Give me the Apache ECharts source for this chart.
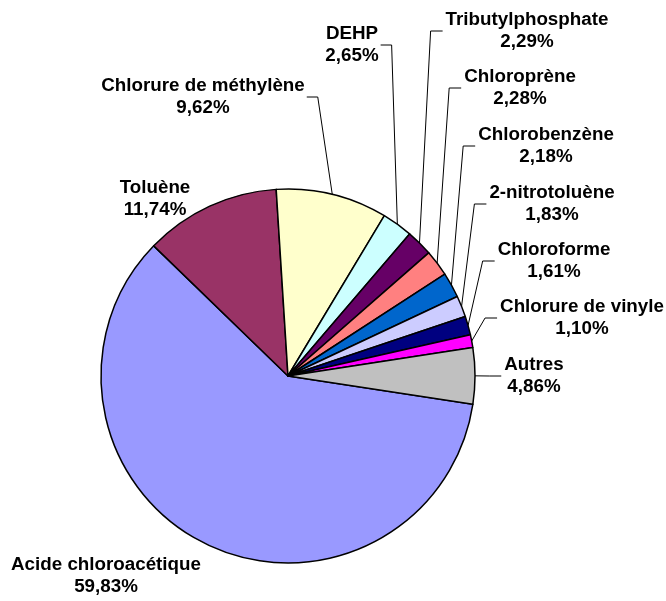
<!DOCTYPE html>
<html>
<head>
<meta charset="utf-8">
<script src="https://cdn.jsdelivr.net/npm/echarts@6/dist/echarts.min.js"></script>
<style>
  html, body { margin: 0; padding: 0; background: #fff; }
  #chart { width: 666px; height: 601px; }
</style>
</head>
<body>
<div id="chart"></div>
<script>
const names = [
  'Acide chloroacétique', 'Toluène', 'Chlorure de méthylène', 'DEHP',
  'Tributylphosphate', 'Chloroprène', 'Chlorobenzène', '2-nitrotoluène',
  'Chloroforme', 'Chlorure de vinyle', 'Autres'
]
const values = [59.83, 11.74, 9.62, 2.65, 2.29, 2.28, 2.18, 1.83, 1.61, 1.10, 4.86]
const colors = [
  '#9999FF', '#993366', '#FFFFCC', '#CCFFFF', '#660066', '#FF8080',
  '#0066CC', '#CCCCFF', '#000080', '#FF00FF', '#C0C0C0'
]

// label block centres and which side the leader line comes in from
// (0 = no leader, 1 = from the left, -1 = from the right)
const labelPos = [
  [106, 576], [155, 199], [203, 97], [352, 45], [527, 31], [520, 88],
  [546, 146], [552, 204], [554, 261], [582, 318], [534, 376]
]
const leaderSide = [0, 0, -1, -1, 1, 1, 1, 1, 1, 1, 1]

const chart = echarts.init(document.getElementById('chart'))

chart.setOption({
  animation: false,
  backgroundColor: '#fff',
  series: [
    {
      type: 'pie',
      center: [288, 376],
      radius: 187,
      startAngle: 351.3,
      clockwise: true,
      avoidLabelOverlap: false,
      data: names.map((n, i) => ({
        name: n,
        value: values[i],
        itemStyle: { color: colors[i] },
        labelLine: { show: leaderSide[i] !== 0 }
      })),
      itemStyle: { borderColor: '#000', borderWidth: 1.5 },
      label: {
        position: 'outside',
        color: '#000',
        fontFamily: '"Liberation Sans", Arial, sans-serif',
        fontWeight: 'bold',
        fontSize: 18.8,
        lineHeight: 22,
        formatter: (p) => p.name + '\n' + p.value.toFixed(2).replace('.', ',') + '%'
      },
      labelLine: {
        show: true,
        length: 10,
        length2: 10,
        lineStyle: { color: '#000', width: 1 }
      },
      labelLayout: (params) => {
        const i = params.dataIndex
        const [cx, cy] = labelPos[i]
        const w = params.labelRect.width
        const out = { x: cx, y: cy, align: 'center', verticalAlign: 'middle' }
        const pts = params.labelLinePoints
        if (pts && leaderSide[i] !== 0) {
          const p0 = pts[0]
          if (leaderSide[i] === 1) {
            const lx = cx - w / 2
            out.labelLinePoints = [p0, [lx - 15, cy], [lx - 3, cy]]
          } else {
            const rx = cx + w / 2
            out.labelLinePoints = [p0, [rx + 13, cy], [rx + 2, cy]]
          }
        }
        return out
      },
      emphasis: { disabled: true }
    }
  ]
})
</script>
</body>
</html>
